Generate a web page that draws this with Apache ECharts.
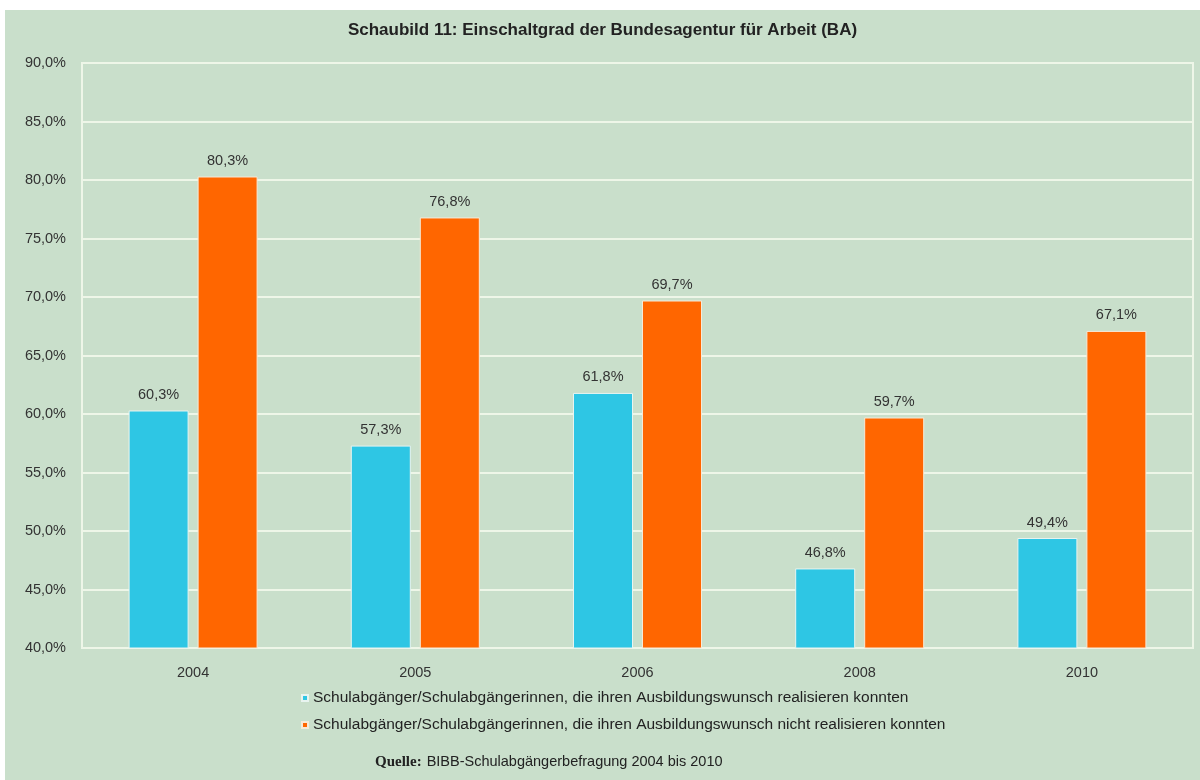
<!DOCTYPE html>
<html>
<head>
<meta charset="utf-8">
<script src="https://cdn.jsdelivr.net/npm/echarts@6/dist/echarts.min.js"></script>
<style>
  html, body { margin: 0; padding: 0; background: #ffffff; }
  #chart { position: absolute; left: 5px; top: 10px; width: 1195px; height: 770px; background: #c9dfcb; }
</style>
</head>
<body>
<div id="chart"></div>
<script>
// Daten aus dem Schaubild
const years = ['2004', '2005', '2006', '2008', '2010'];
const realisiert = [60.3, 57.3, 61.8, 46.8, 49.4];
const nichtRealisiert = [80.3, 76.8, 69.7, 59.7, 67.1];
const seriesNames = [
    'Schulabgänger/Schulabgängerinnen, die ihren Ausbildungswunsch realisieren konnten',
    'Schulabgänger/Schulabgängerinnen, die ihren Ausbildungswunsch nicht realisieren konnten'
];

const fmt = v => v.toFixed(1).replace('.', ',') + '%';
const font = 'Liberation Sans, Arial, sans-serif';

const chart = echarts.init(document.getElementById('chart'));

const barLabel = {
    show: true,
    position: 'top',
    distance: 8,
    color: '#333',
    fontSize: 14.5,
    fontFamily: font,
    formatter: p => fmt(p.value)
};

chart.setOption({
    animation: false,
    title: [{
        text: 'Schaubild 11: Einschaltgrad der Bundesagentur für Arbeit (BA)',
        left: 'center',
        top: 7,
        textStyle: { fontSize: 17, fontWeight: 'bold', color: '#222', fontFamily: font }
    }, {
        text: '{q|Quelle:} {s|BIBB-Schulabgängerbefragung 2004 bis 2010}',
        left: 365,
        top: 738,
        textStyle: {
            fontWeight: 'normal',
            rich: {
                q: { fontFamily: 'Liberation Serif, serif', fontWeight: 'bold', fontSize: 15, color: '#222' },
                s: { fontFamily: font, fontWeight: 'normal', fontSize: 14.5, color: '#222' }
            }
        }
    }],
    legend: {
        orient: 'vertical',
        left: 291,
        top: 675,
        icon: 'rect',
        itemWidth: 6,
        itemHeight: 6,
        itemGap: 11,
        textStyle: { fontSize: 15.5, color: '#222', fontFamily: font },
        data: seriesNames
    },
    grid: {
        left: 77,
        right: 7,
        top: 53,
        bottom: 132,
        show: true,
        borderColor: '#eef6e8',
        borderWidth: 2
    },
    xAxis: {
        type: 'category',
        data: years,
        axisLine: { show: true, lineStyle: { color: '#eef6e8', width: 2 } },
        axisTick: { show: false },
        axisLabel: { color: '#333', fontSize: 14.5, fontFamily: font, margin: 17 }
    },
    yAxis: {
        type: 'value',
        min: 40,
        max: 90,
        interval: 5,
        axisLine: { show: true, lineStyle: { color: '#eef6e8', width: 2 } },
        axisTick: { show: false },
        axisLabel: { color: '#333', fontSize: 14.5, fontFamily: font, margin: 16, formatter: fmt },
        splitLine: { lineStyle: { color: '#eef6e8', width: 2 } }
    },
    series: [{
        name: seriesNames[0],
        type: 'bar',
        data: realisiert,
        barWidth: 60,
        barGap: '15%',
        itemStyle: { color: '#2ec6e4', borderColor: '#e8f4f0', borderWidth: 1 },
        label: barLabel
    }, {
        name: seriesNames[1],
        type: 'bar',
        data: nichtRealisiert,
        barWidth: 60,
        barGap: '15%',
        itemStyle: { color: '#ff6600', borderColor: '#f6ead8', borderWidth: 1 },
        label: barLabel
    }]
});
</script>
</body>
</html>
